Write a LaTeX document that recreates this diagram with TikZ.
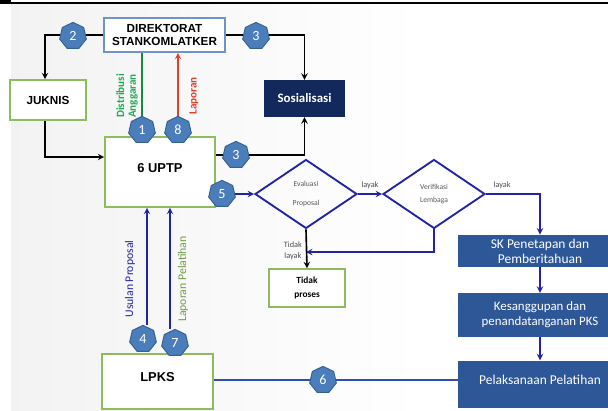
\documentclass[tikz,border=0pt]{standalone}
\usepackage{fontspec}
\setmainfont{Liberation Sans}
\newfontfamily\calibri{Carlito}
\usepackage{xcolor}
\usepackage{tikz}
\usetikzlibrary{shapes.geometric, arrows}
\definecolor{boxgreen}{HTML}{8DBB5E}
\definecolor{dirblue}{HTML}{6E93C8}
\definecolor{sosnavy}{HTML}{13295C}
\definecolor{stepblue}{HTML}{2E5797}
\definecolor{flowblue}{HTML}{2323A8}
\definecolor{lineblue}{HTML}{2F4FB0}
\definecolor{numfill}{HTML}{4A7DBA}
\definecolor{numdraw}{HTML}{34618F}
\definecolor{labgreen}{HTML}{1FAA55}
\definecolor{labred}{HTML}{E0402A}
\definecolor{labolive}{HTML}{6E9A45}
\pgfdeclarelayer{back}
\pgfdeclarelayer{lines}
\pgfsetlayers{back,lines,main}
\newcommand{\nobox}[1]{\raisebox{0pt}[0pt][0pt]{#1}}
\tikzstyle{unit} = [rectangle, 
draw=boxgreen, 
line width=1.3pt, 
fill=white, 
text centered, 
align=center, 
font=\bfseries]
\tikzstyle{dirbox} = [rectangle, 
draw=dirblue, 
line width=1.3pt, 
fill=white, 
align=center, 
minimum width=3.63cm, 
minimum height=1.02cm, 
font=\bfseries\fontsize{10}{11.5}\selectfont]
\tikzstyle{stepbox} = [rectangle, 
fill=stepblue, 
minimum width=4.92cm, 
align=center, 
text=white, 
font=\calibri\fontsize{11.5}{13}\selectfont]
\tikzstyle{decision} = [diamond, 
draw=flowblue, 
line width=1.6pt, 
minimum width=3.06cm, 
minimum height=2.07cm, 
inner sep=0pt, 
align=center, 
text=black!65, 
font=\calibri\fontsize{6.5}{11}\selectfont]
\tikzstyle{num} = [regular polygon, 
regular polygon sides=7, 
minimum size=0.82cm, 
inner sep=0pt, 
fill=numfill, 
draw=numdraw, 
line width=0.8pt, 
text=white, 
font=\calibri\fontsize{12}{12}\selectfont]
\tikzstyle{blk} = [line width=1.4pt,->,>=stealth]
\tikzstyle{blu} = [line width=1.4pt,draw=flowblue,->,>=stealth]
\tikzstyle{small} = [align=center, text=black!70, font=\calibri\fontsize{7}{9}\selectfont]
\tikzstyle{sidelabel} = [rotate=90, align=center, font=\calibri\bfseries\fontsize{9.5}{10}\selectfont]

\begin{document}
\begin{tikzpicture}[x=0.03cm, y=-0.03cm]
\clip (0,0) rectangle (608,410);
\begin{pgfonlayer}{back}
\shade[left color=black!5, right color=white] (11,4) rectangle (420,410);
\fill[black] (0,0) rectangle (11,4);
\draw[line width=0.9pt] (0,3) -- (608,3);
\end{pgfonlayer}

\node (dir) [dirbox] at (164.5,35) {DIREKTORAT\\STANKOMLATKER};
\node (juknis) [unit, minimum width=2.28cm, minimum height=1.2cm, font=\bfseries\fontsize{10}{12}\selectfont] at (48,100) {JUKNIS};
\node (sos) [rectangle, fill=sosnavy, text=white, minimum width=2.43cm, minimum height=1.11cm, font=\calibri\bfseries\fontsize{11}{12}\selectfont] at (304.5,98.5) {Sosialisasi};
\node (uptp) [unit, minimum width=3.3cm, minimum height=2.1cm, font=\bfseries\fontsize{11}{12}\selectfont] at (160,172) {\nobox{6 UPTP}};
\node (eval) [decision] at (306,194) {Evaluasi\\[0.2cm]Proposal};
\node (verif) [decision, right of=eval, node distance=3.84cm] {Verifikasi\\Lembaga};
\node (tidak) [unit, minimum width=2.28cm, minimum height=1.14cm, font=\calibri\bfseries\fontsize{8}{12}\selectfont] at (307,288) {Tidak\\proses};
\node (sk) [stepbox, minimum height=0.96cm] at (540,251) {SK Penetapan dan\\Pemberitahuan};
\node (kes) [stepbox, minimum height=1.32cm, below of=sk, node distance=1.92cm, font=\calibri\fontsize{11}{13}\selectfont] {Kesanggupan dan\\penandatanganan PKS};
\node (pel) [stepbox, minimum height=1.41cm, below of=kes, node distance=2.07cm] {\nobox{Pelaksanaan Pelatihan}};
\node (lpks) [unit, minimum width=3.33cm, minimum height=1.65cm, font=\bfseries\fontsize{11}{12}\selectfont] at (157.5,381.5) {\nobox{LPKS}};

\node (n2) [num] at (73,36) {2};
\node (n3a) [num] at (256,36) {3};
\node (n1) [num] at (142,130) {1};
\node (n8) [num] at (178,130) {8};
\node (n3b) [num] at (236,155) {3};
\node (n5) [num] at (222,194) {5};
\node (n4) [num] at (143,339) {4};
\node (n7) [num] at (175,343) {7};
\node (n6) [num] at (323,380) {6};
\coordinate (merge) at (306,252);

% labels on the vertical lines
\begin{pgfonlayer}{back}
\node [sidelabel, text=labgreen] at (127,96) {Distribusi\\Anggaran};
\node [sidelabel, text=labred] at (194,96) {Laporan};
\node [sidelabel, text=flowblue, font=\calibri\fontsize{10}{10}\selectfont] at (130,279) {Usulan Proposal};
\node [sidelabel, text=labolive, font=\calibri\fontsize{10}{10}\selectfont] at (183,279) {Laporan Pelatihan};
\end{pgfonlayer}

\begin{pgfonlayer}{lines}
\draw [blk] (dir.west) -| ([xshift=-0.09cm]juknis.north);
\draw [blk] (dir.east) -| (sos.north);
\draw [blk] ([xshift=-0.09cm]juknis.south) |- ([yshift=0.45cm]uptp.west);
\draw [blk] (uptp.east |- n3b) -| (sos.south);
\draw [line width=1.4pt, draw=labgreen!80!black] (n1.north) -- (n1.north |- dir.south);
\draw [line width=1.4pt, draw=labred, ->, >=stealth] (n8.north) -- (n8.north |- dir.south);
\draw [blu] (uptp.east |- n5) -- (eval.west);
\draw [blu] (eval.east) -- node[small, above] {layak} (verif.west);
\draw [blu] (verif.east) -| node[small, above, pos=0.15] {layak} (sk.north);
\draw [blu] (verif.south) |- (merge);
\draw [blk] (eval.south) -- node[small, left, pos=0.55] {Tidak\\layak} (tidak.north);
\draw [blu] (sk.south) -- (kes.north);
\draw [blu] (kes.south) -- (pel.north);
\draw [blu] ([xshift=0.12cm]n4.north) -- ([xshift=0.12cm]n4.north |- uptp.south);
\draw [blu] ([xshift=-0.15cm]n7.north) -- ([xshift=-0.15cm]n7.north |- uptp.south);
\draw [line width=1.6pt, draw=lineblue] (lpks.east |- n6) -- (n6 -| pel.west);
\end{pgfonlayer}

\end{tikzpicture}
\end{document}
